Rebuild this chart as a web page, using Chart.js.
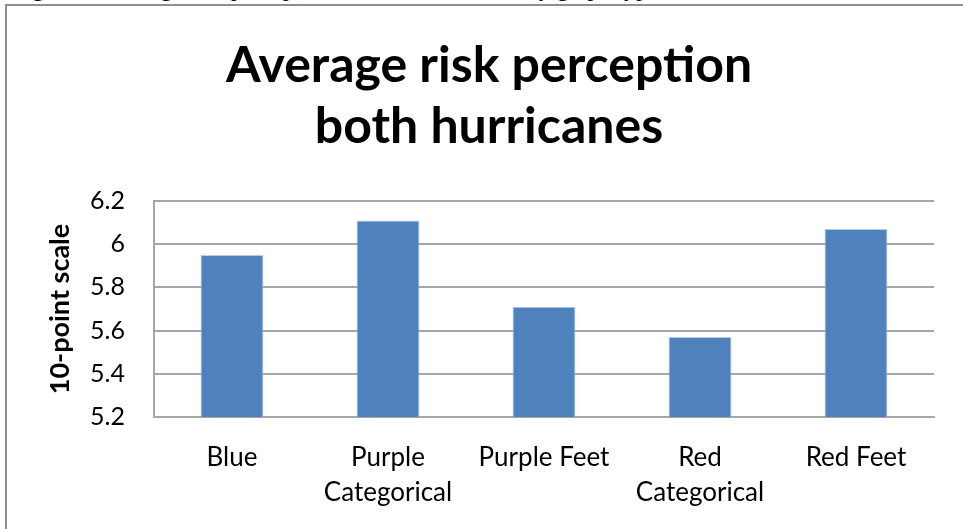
<!DOCTYPE html>
<html>
<head>
<meta charset="utf-8">
<script src="https://cdn.jsdelivr.net/npm/chart.js@4"></script>
<style>
  html, body { margin: 0; padding: 0; background: #fff; overflow: hidden; width: 963px; height: 529px; }
  #frame { position: absolute; left: 5px; top: 4px; width: 1100px; height: 700px;
           border-top: 2px solid #8f8f8f; border-left: 2px solid #8f8f8f; }
  #caption { position: absolute; left: 12px; top: -24px; font-family: "Liberation Serif", serif;
             font-size: 24px; line-height: 24px; white-space: nowrap; color: #000; }
  #wrap { position: absolute; left: 0; top: 0; width: 963px; height: 529px; }
</style>
</head>
<body>
<div id="caption">Figure 4. Average risk perception for both hurricanes by graph type</div>
<div id="frame"></div>
<div id="wrap"><canvas id="chart" width="963" height="529"></canvas></div>
<script>
// Average risk perception (10-point scale) for each graph type
const categories = ['Blue', ['Purple', 'Categorical'], 'Purple Feet', ['Red', 'Categorical'], 'Red Feet'];
const riskPerception = [5.95, 6.11, 5.71, 5.57, 6.07];
const yTickValues = [5.2, 5.4, 5.6, 5.8, 6.0, 6.2];
const chartTitle = ['Average risk perception', 'both hurricanes'];
const yAxisTitle = '10-point scale';

const gridGrey = '#a6a6a6';

new Chart(document.getElementById('chart'), {
  type: 'bar',
  data: {
    labels: categories,
    datasets: [{
      data: riskPerception,
      backgroundColor: '#4f81bd',
      borderColor: '#b4cbe6',
      borderWidth: 1,
      categoryPercentage: 1,
      barPercentage: 0.404
    }]
  },
  options: {
    responsive: false,
    animation: false,
    events: [],
    layout: { padding: { left: 44, right: 29, top: 0, bottom: 0 } },
    plugins: {
      legend: { display: false },
      tooltip: { enabled: false },
      title: {
        display: true,
        text: chartTitle,
        color: '#000',
        font: { family: 'Lato', size: 50, weight: 'bold', lineHeight: 1.22 },
        padding: { top: 35, bottom: 44 }
      }
    },
    scales: {
      x: {
        grid: { display: false },
        border: { display: true, color: gridGrey, width: 2 },
        ticks: {
          color: '#000',
          maxRotation: 0,
          autoSkip: false,
          padding: 15,
          font: { family: 'Lato', size: 26, lineHeight: 1.35 }
        },
        afterFit: s => { s.height = 112; }
      },
      y: {
        min: 5.2,
        max: 6.2,
        afterBuildTicks: s => { s.ticks = yTickValues.map(v => ({ value: v })); },
        grid: { color: gridGrey, lineWidth: 2, drawTicks: false },
        border: { display: true, color: gridGrey, width: 2 },
        ticks: {
          color: '#000',
          padding: 29,
          font: { family: 'Lato', size: 25 },
          callback: v => String(Number(v.toFixed(1)))
        },
        title: {
          display: true,
          text: yAxisTitle,
          color: '#000',
          padding: 0,
          font: { family: 'Lato', size: 27, weight: 'bold', lineHeight: 1.2 }
        },
        afterFit: s => { s.width = 110; }
      }
    }
  }
});
</script>
</body>
</html>
